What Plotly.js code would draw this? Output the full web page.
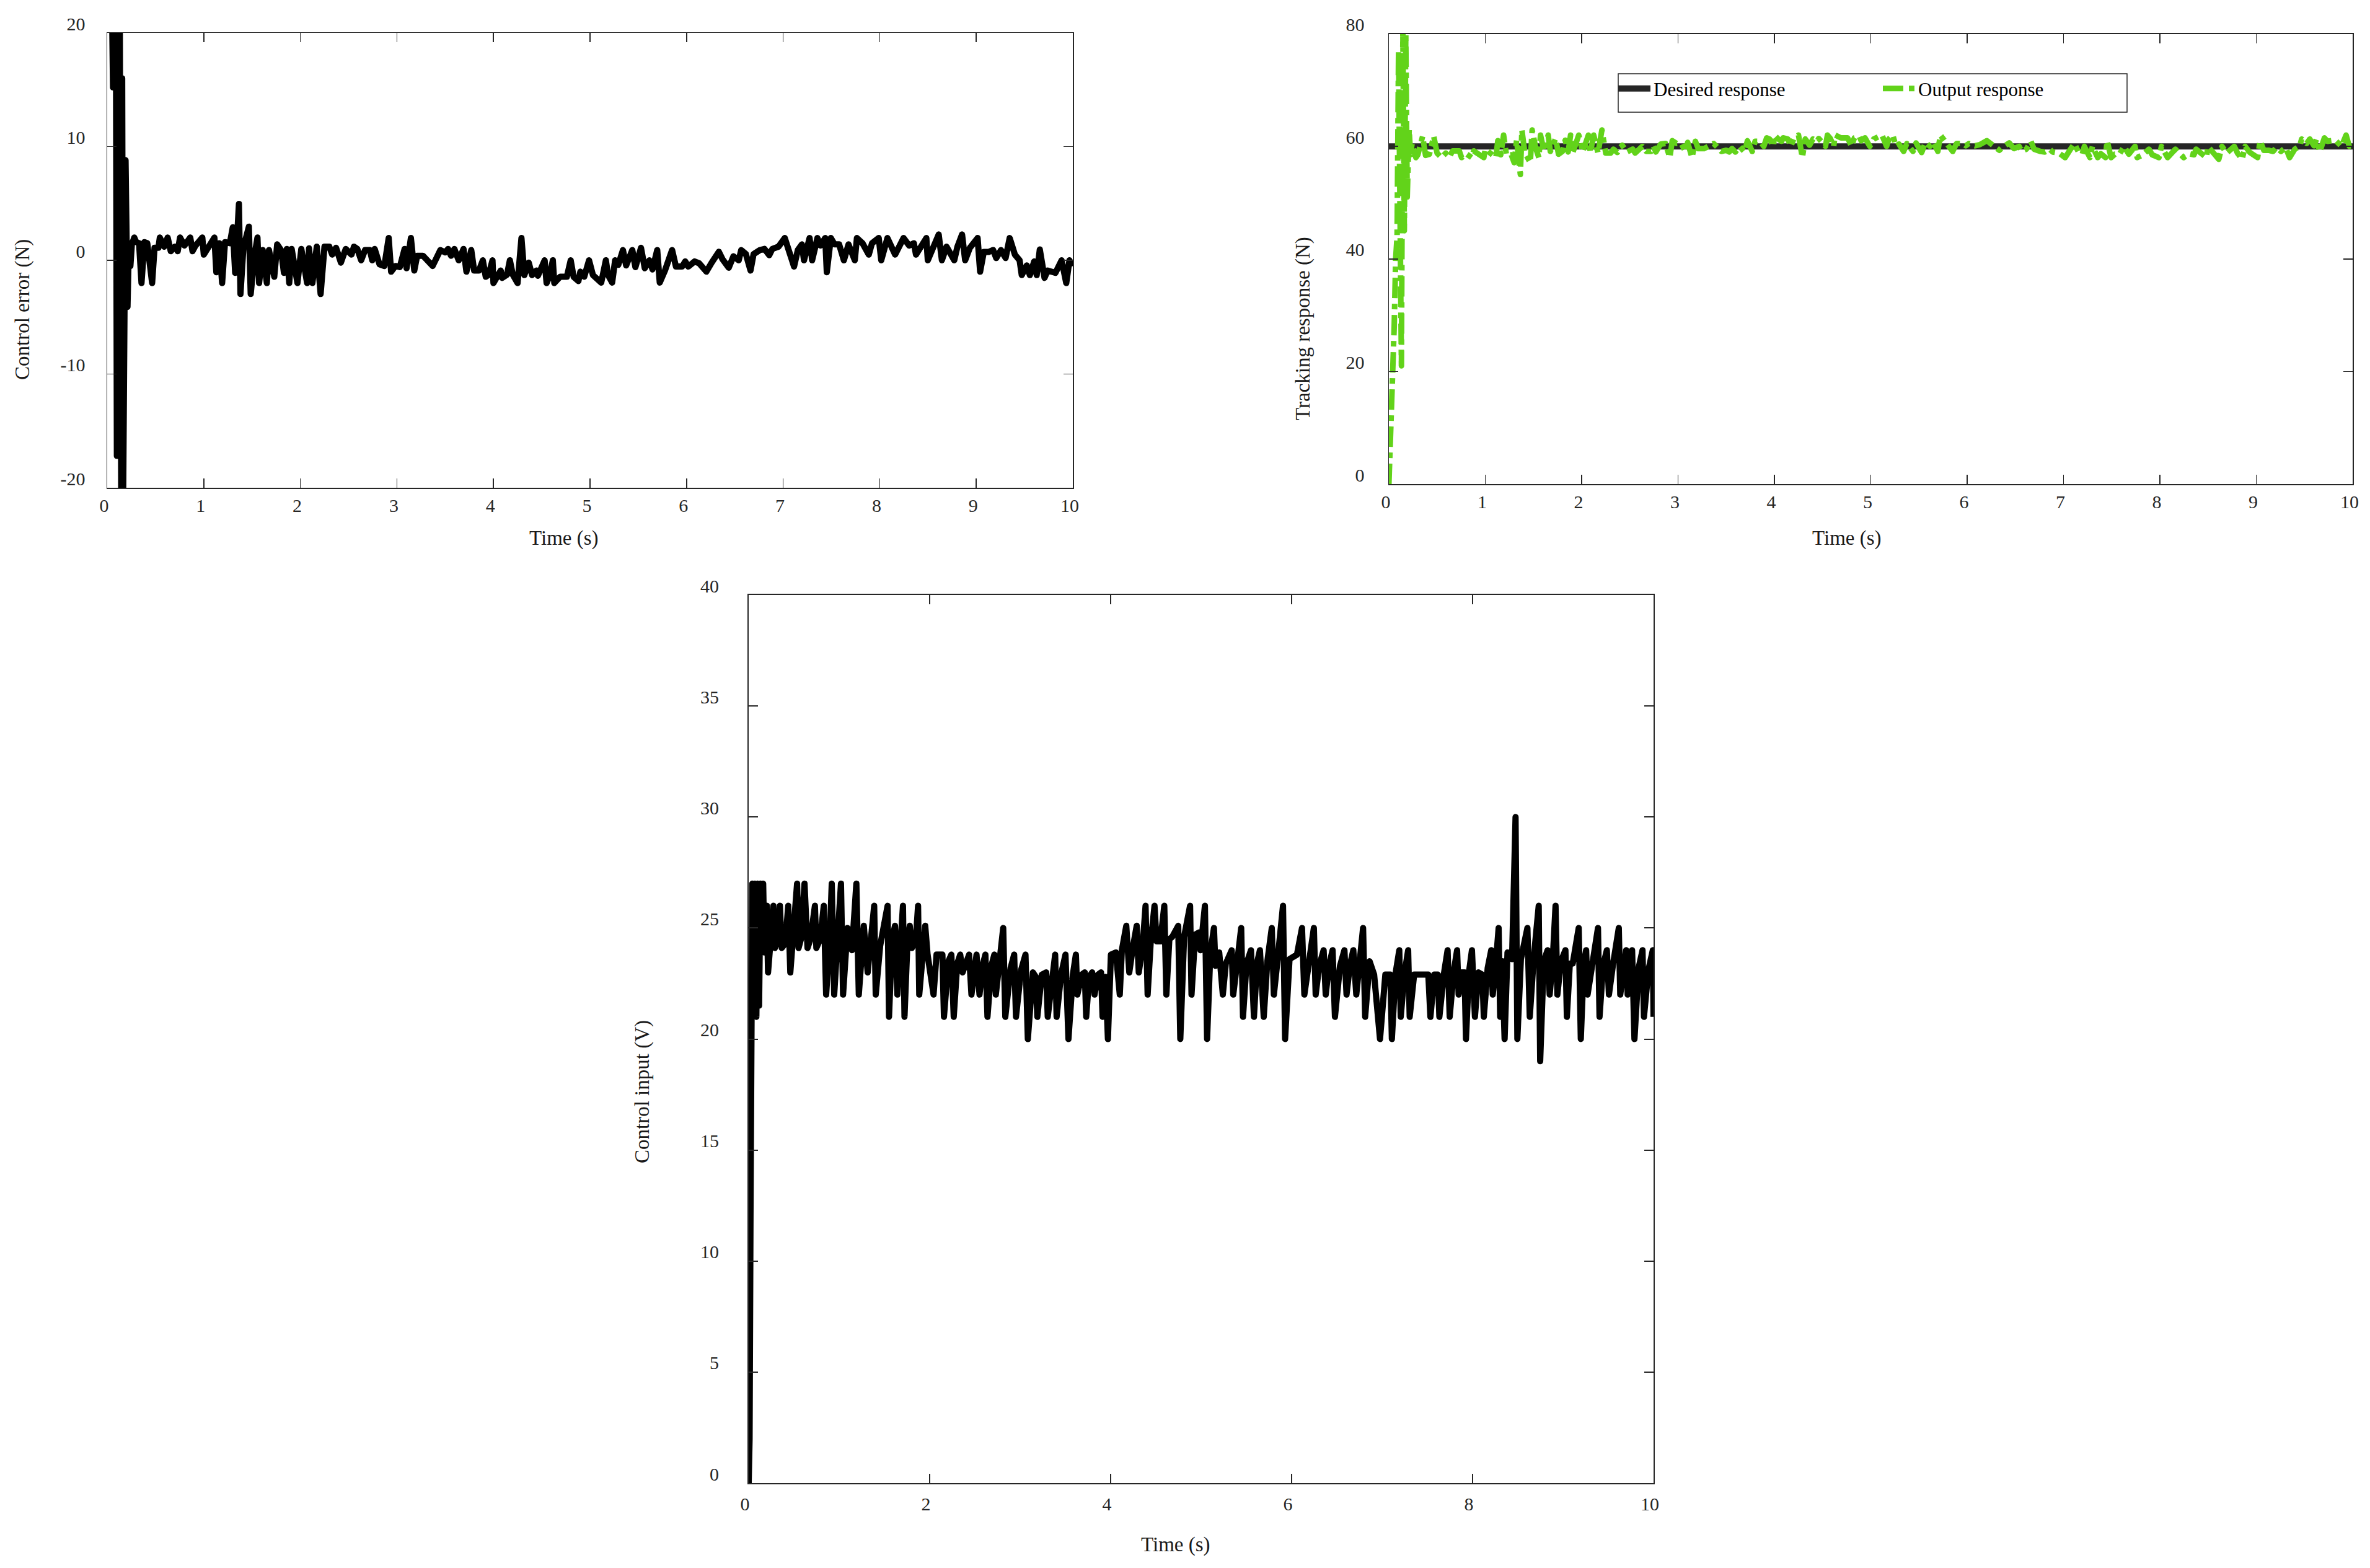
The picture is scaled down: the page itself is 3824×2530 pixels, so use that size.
<!DOCTYPE html>
<html>
<head>
<meta charset="utf-8">
<script src="https://cdn.plot.ly/plotly-3.0.1.min.js"></script>
<style>
html,body{margin:0;padding:0;background:#fff;}
#chart{width:3824px;height:2530px;}
.scatterlayer path.js-line{stroke-linejoin:round !important;}
</style>
</head>
<body>
<div id="chart"></div>
<script>
// ---------- Data ----------
// Control error (N) vs time (s)
const errT = [0,0.03,0.05,0.06,0.07,0.08,0.09,0.10,0.11,0.12,0.13,0.145,0.155,0.165,0.19,0.21,0.225,0.24,0.255,0.28,0.30,0.33,0.355,0.385,0.415,0.465,0.49,0.53,0.545,0.59,0.626,0.658,0.70,0.73,0.754,0.80,0.86,0.883,0.915,0.985,1.00,1.06,1.11,1.13,1.16,1.19,1.22,1.27,1.30,1.325,1.364,1.38,1.41,1.467,1.486,1.525,1.556,1.573,1.61,1.653,1.675,1.73,1.76,1.80,1.83,1.86,1.885,1.91,1.97,2.01,2.07,2.09,2.125,2.17,2.21,2.25,2.30,2.33,2.37,2.42,2.47,2.53,2.555,2.59,2.63,2.67,2.72,2.745,2.77,2.82,2.87,2.915,2.94,2.985,3.03,3.08,3.10,3.145,3.18,3.21,3.27,3.37,3.45,3.50,3.53,3.56,3.595,3.64,3.69,3.72,3.77,3.80,3.85,3.89,3.92,3.95,3.99,4.00,4.04,4.075,4.09,4.14,4.17,4.20,4.25,4.29,4.32,4.365,4.40,4.445,4.46,4.53,4.55,4.58,4.615,4.63,4.69,4.76,4.80,4.83,4.88,4.90,4.94,4.99,5.03,5.116,5.164,5.187,5.229,5.26,5.293,5.341,5.374,5.438,5.47,5.528,5.567,5.615,5.647,5.696,5.722,5.776,5.85,5.89,5.954,5.986,6.018,6.083,6.131,6.205,6.26,6.334,6.372,6.437,6.485,6.54,6.566,6.614,6.662,6.694,6.759,6.807,6.856,6.888,6.952,7.017,7.065,7.113,7.152,7.194,7.216,7.274,7.30,7.355,7.387,7.436,7.452,7.494,7.532,7.58,7.629,7.677,7.742,7.764,7.822,7.887,7.92,7.99,8.016,8.08,8.16,8.209,8.247,8.305,8.354,8.376,8.434,8.483,8.498,8.563,8.611,8.644,8.692,8.772,8.805,8.853,8.885,8.934,9.014,9.04,9.078,9.127,9.175,9.207,9.256,9.304,9.346,9.40,9.449,9.471,9.523,9.555,9.60,9.626,9.658,9.707,9.739,9.82,9.884,9.932,9.965,10.0];
const errV = [60,45,22,15.2,21,15.2,22,-17.2,21,15.2,22,-21,16,-21,8.8,-4.1,1.5,-0.5,1.4,2.0,1.6,1.5,-2.0,1.6,1.5,-2.0,1.1,1.1,2.0,1.2,2.0,0.8,1.2,0.8,2.0,1.3,2.0,0.8,1.3,2.0,0.5,1.4,2.0,-1.05,1.5,-2.0,1.6,1.5,2.9,-1.1,4.96,-2.96,1.1,2.96,-2.96,0.4,2.0,-2.0,0.9,-2.0,0.9,-1.45,1.4,0.9,-1.1,1.0,-2.0,1.0,-2.0,1.0,-2.0,1.05,-2.0,1.2,-2.96,1.2,1.2,0.5,1.1,-0.2,1.0,0.5,1.2,1.0,0.0,0.9,0.9,0.0,1.0,-0.36,-0.5,1.96,-1.0,-0.5,-0.6,1.0,-0.7,1.96,-0.9,0.4,0.4,-0.5,0.9,0.7,1.0,0.4,1.0,0.0,1.0,-1.0,0.9,-0.9,-0.9,0.0,-1.45,-1.27,0.0,-2.0,-1.27,-0.9,-1.55,-1.27,0.0,-1.27,-2.0,1.96,-1.3,-0.2,-1.3,-0.9,-1.36,0.0,-2.0,-1.4,0.0,-2.0,-1.45,-1.45,0.0,-1.45,-1.82,-1.0,-1.45,0.0,-1.3,-1.96,0.0,-1.3,-1.96,0.0,-0.4,0.9,-0.45,0.9,-0.6,1.1,-0.7,0.0,-0.8,0.9,-1.96,-0.9,0.9,-0.55,-0.55,-0.1,-0.55,-0.1,-0.27,-1.0,-0.2,0.75,0.1,-0.65,0.35,0.0,0.9,0.55,-0.9,0.55,0.9,1.0,0.45,1.0,1.2,1.96,0.7,-0.55,0.9,1.4,0.0,1.96,0.0,1.96,1.3,1.96,-1.05,1.96,1.4,1.4,0.0,1.4,0.0,1.96,1.5,0.5,1.5,1.96,0.0,1.96,0.5,1.5,1.96,1.3,1.5,0.5,1.3,1.96,0.0,1.3,2.27,0.0,1.2,0.0,1.2,2.27,0.0,1.1,1.96,-1.0,0.73,0.73,0.9,0.2,0.9,0.2,1.96,0.5,0.0,-1.3,-0.45,-1.3,-0.1,-1.3,0.95,-1.55,-0.9,-1.1,0.0,-2.0,0.0,-0.5];

// Tracking response (N): desired and output
const desiredT = [0, 10];
const desiredV = [60, 60];
const outT = [0,0.02,0.04,0.055,0.07,0.085,0.10,0.115,0.13,0.145,0.16,0.175,0.19,0.21,0.225,0.24,0.26,0.28,0.30,0.35,0.38,0.42,0.465,0.50,0.545,0.59,0.626,0.66,0.73,0.754,0.80,0.86,0.88,0.915,0.985,1.00,1.06,1.11,1.13,1.16,1.19,1.22,1.27,1.30,1.325,1.364,1.38,1.41,1.467,1.486,1.525,1.556,1.573,1.61,1.653,1.675,1.73,1.76,1.80,1.83,1.86,1.885,1.91,1.97,2.01,2.07,2.09,2.125,2.17,2.21,2.25,2.30,2.33,2.37,2.42,2.47,2.53,2.555,2.63,2.67,2.72,2.745,2.77,2.82,2.87,2.915,2.94,2.985,3.03,3.08,3.10,3.145,3.18,3.21,3.27,3.37,3.45,3.50,3.53,3.56,3.595,3.64,3.69,3.72,3.77,3.80,3.85,3.89,3.92,3.95,3.99,4.00,4.04,4.075,4.09,4.14,4.17,4.20,4.25,4.29,4.32,4.365,4.40,4.445,4.46,4.53,4.55,4.58,4.615,4.63,4.69,4.76,4.80,4.83,4.88,4.90,4.94,4.99,5.03,5.116,5.164,5.187,5.229,5.26,5.293,5.341,5.374,5.438,5.47,5.528,5.567,5.615,5.647,5.696,5.722,5.776,5.85,5.89,5.954,5.986,6.018,6.083,6.131,6.205,6.26,6.334,6.372,6.437,6.485,6.54,6.566,6.614,6.662,6.694,6.759,6.807,6.856,6.888,6.952,7.017,7.065,7.113,7.152,7.194,7.216,7.274,7.30,7.355,7.387,7.436,7.452,7.494,7.532,7.58,7.629,7.677,7.742,7.764,7.822,7.887,7.92,7.99,8.016,8.08,8.16,8.209,8.247,8.305,8.354,8.376,8.434,8.483,8.498,8.563,8.611,8.644,8.692,8.772,8.805,8.853,8.885,8.934,9.014,9.04,9.078,9.127,9.175,9.207,9.256,9.304,9.346,9.40,9.449,9.471,9.523,9.555,9.60,9.626,9.658,9.707,9.739,9.82,9.884,9.932,9.965,10.0];
const outV = [0,9,22,28,40,44,77,40,21,80,45,80,51,63,58.5,60.5,58.6,58.0,58.5,61.8,58.4,58.6,61.8,58.8,58.0,58.8,58.0,59.2,59.2,58.0,58.7,58.0,59.2,58.7,58.0,59.5,58.6,58.0,61.0,58.5,62.0,58.4,58.5,57.1,61.1,55.0,62.9,58.9,57.1,62.9,59.6,58.0,62.0,59.1,62.0,59.1,61.4,58.6,59.1,61.1,59.0,62.0,59.0,62.0,59.0,62.0,58.9,62.0,58.8,62.9,58.8,58.8,59.5,58.9,60.2,59.0,59.5,58.8,60.0,59.1,59.1,60.0,59.0,60.4,60.5,58.0,61.0,60.5,60.6,59.0,60.7,58.0,60.9,59.6,59.6,60.5,59.1,59.3,59.0,59.6,59.0,60.0,59.0,61.0,59.1,60.9,60.9,60.0,61.5,61.3,60.0,62.0,61.3,60.9,61.5,61.3,60.0,61.3,62.0,58.0,61.3,60.2,61.3,60.9,61.4,60.0,62.0,61.4,60.0,62.0,61.5,61.5,60.0,61.5,61.8,61.0,61.5,60.0,61.3,62.0,60.0,61.3,62.0,60.0,60.4,59.1,60.5,59.1,60.6,58.9,60.7,60.0,60.8,59.1,62.0,60.9,59.1,60.5,60.5,60.1,60.5,60.1,60.3,61.0,60.2,59.3,59.9,60.6,59.6,60.0,59.1,59.5,60.9,59.5,59.1,59.0,59.5,59.0,58.8,58.0,59.3,60.5,59.1,58.6,60.0,58.0,60.0,58.0,58.7,58.0,61.0,58.0,58.6,58.6,60.0,58.6,60.0,58.0,58.5,59.5,58.5,58.0,60.0,58.0,59.5,58.5,58.0,58.7,58.5,59.5,58.7,58.0,60.0,58.7,57.7,60.0,58.8,60.0,58.8,57.7,60.0,58.9,58.0,61.0,59.3,59.3,59.1,59.8,59.1,59.8,58.0,59.5,60.0,61.3,60.5,61.3,60.1,61.3,59.0,61.5,60.9,61.1,60.0,62.0,60.0,60.5];

// Control input (V) vs time (s)
const inT = [0,0.01,0.02,0.03,0.04,0.055,0.07,0.085,0.10,0.115,0.13,0.145,0.16,0.174,0.20,0.214,0.247,0.273,0.289,0.322,0.345,0.365,0.404,0.437,0.46,0.496,0.535,0.551,0.578,0.617,0.65,0.683,0.732,0.748,0.79,0.83,0.856,0.895,0.918,0.945,0.977,1.02,1.043,1.092,1.141,1.19,1.217,1.272,1.315,1.354,1.387,1.404,1.453,1.535,1.551,1.584,1.617,1.643,1.682,1.705,1.722,1.754,1.78,1.803,1.846,1.872,1.885,1.928,1.951,1.977,2.043,2.076,2.141,2.158,2.207,2.24,2.266,2.305,2.338,2.364,2.403,2.436,2.462,2.495,2.518,2.551,2.584,2.616,2.639,2.682,2.715,2.731,2.77,2.813,2.836,2.895,2.934,2.954,3.01,3.059,3.085,3.141,3.173,3.19,3.239,3.288,3.305,3.354,3.387,3.403,3.452,3.501,3.534,3.583,3.616,3.632,3.681,3.714,3.73,3.763,3.796,3.822,3.861,3.894,3.911,3.944,3.97,4.003,4.058,4.101,4.124,4.173,4.206,4.245,4.288,4.311,4.354,4.386,4.409,4.442,4.485,4.508,4.55,4.593,4.616,4.649,4.681,4.747,4.77,4.812,4.878,4.894,4.934,4.976,4.993,5.042,5.066,5.102,5.142,5.158,5.2,5.24,5.273,5.338,5.355,5.397,5.443,5.463,5.502,5.551,5.584,5.617,5.65,5.692,5.732,5.781,5.804,5.846,5.905,5.928,5.977,6.059,6.115,6.141,6.19,6.246,6.266,6.305,6.354,6.377,6.413,6.453,6.479,6.535,6.584,6.607,6.643,6.682,6.715,6.754,6.79,6.813,6.862,6.912,6.977,7.036,7.092,7.108,7.147,7.19,7.206,7.246,7.288,7.305,7.354,7.469,7.511,7.534,7.577,7.616,7.633,7.682,7.724,7.747,7.79,7.829,7.846,7.878,7.911,7.927,7.96,7.993,8.026,8.065,8.108,8.124,8.167,8.206,8.223,8.255,8.288,8.305,8.327,8.354,8.386,8.436,8.475,8.495,8.534,8.606,8.632,8.675,8.731,8.747,8.786,8.829,8.852,8.885,8.917,8.937,8.976,9.026,9.042,9.075,9.107,9.173,9.196,9.229,9.255,9.271,9.32,9.386,9.403,9.442,9.484,9.507,9.55,9.616,9.632,9.665,9.697,9.714,9.737,9.763,9.789,9.835,9.878,9.894,9.943,9.992,10.0];
const inV = [0,2,12,21,27,21,27,21,27,21.5,27,24,27,23.9,26,23,24.3,26,24.1,24.5,26,24.1,24.3,26,23,24.8,27,24.1,24.5,27,24.1,24.5,26,24.1,24.5,26,22,24.4,27,22,24.5,27,22,25,24,27,22,25.1,23,24.4,26,22,24.2,26,21,24.5,25.1,22,24.3,26,21,24.3,25.1,24.1,24.4,26,22,24.5,25.1,23.8,22,23.8,23.8,21,23.5,23.8,21,23.4,23.8,23,23.5,23.8,22,23.5,23.8,22,23.3,23.8,21,23.3,23.8,22,23.2,25.0,21,23.2,23.8,21,23.1,23.8,20,23.0,22.8,21,22.9,23.0,21,22.9,23.8,21,22.9,23.8,20,22.9,23.8,22,22.9,23.0,21,22.8,23.0,22,22.9,23.0,21,22.8,20,23.8,23.9,22,24.0,25.1,23,24.1,25.1,23,24.2,26,22,24.3,26,24.4,24.4,26,22,24.5,24.6,25.1,20,24.6,26,22,24.7,24.8,24,26,20,23.9,25,23.3,23.9,22,23.4,24,22,23.4,25,21,23.4,24,21,23.4,24,21,23.5,25,22,23.6,26,20,23.6,23.8,25,22,23.4,25,22,23.3,24,22,23.3,24,21,23.3,24,22,23.3,24,22,23.3,25,21,23.5,22.9,20,22.9,22.9,20,22.9,24,21,22.9,24,21,22.9,22.9,22.9,21,22.9,22.9,21,22.9,24,21,23,24,22,23,23,20,23,24,21,23,22.9,21,23.2,24,22,23.3,25,21,23.5,20,23.9,23.6,30,20,23.6,25,21,23.6,26,19,23.5,24,22,23.5,26,22,23.5,24,21,23.4,23.4,25,20,23.4,24,22,23.4,25,21,23.3,24,22,23.3,25,22,23.3,24,22,23.3,24,20,23.2,24,21,23.1,24,21];

// Tick labels
const errTickVals = [-20, -10, 0, 10, 20];
const errTickText = ['-20', '-10', '0', '10', '20'];
const trackTickVals = [0, 20, 40, 60, 80];
const trackTickText = ['0', '20', '40', '60', '80'];
const inTickVals = [0, 5, 10, 15, 20, 25, 30, 35, 40];
const inTickText = ['0', '5', '10', '15', '20', '25', '30', '35', '40'];
const timeTicks1 = [0,1,2,3,4,5,6,7,8,9,10];
const timeTicks3 = [0,2,4,6,8,10];

// Titles
const xTitle = 'Time (s)';
const yTitle1 = 'Control error (N)';
const yTitle2 = 'Tracking response (N)';
const yTitle3 = 'Control input (V)';
const legendNames = ['Desired response', 'Output response'];

// ---------- Layout helpers ----------
const W = 3824, H = 2530;
const px = v => v / W;
const py = v => 1 - v / H;
const FONT = 'Liberation Serif, Times New Roman, serif';
const AX = '#262626';

function axisBase(extra) {
  return Object.assign({
    showline: true, linecolor: AX, linewidth: 1.5, mirror: 'ticks',
    ticks: 'inside', ticklen: 15, tickwidth: 1.5, tickcolor: AX,
    showgrid: false, zeroline: false, fixedrange: true,
    tickfont: {family: FONT, size: 30, color: AX},
    tickmode: 'array'
  }, extra);
}

const traces = [
  {x: errT, y: errV, type: 'scatter', mode: 'lines', xaxis: 'x', yaxis: 'y',
   line: {color: '#000000', width: 10}, showlegend: false, hoverinfo: 'skip'},
  {x: desiredT, y: desiredV, type: 'scatter', mode: 'lines', xaxis: 'x2', yaxis: 'y2',
   name: legendNames[0], line: {color: '#262626', width: 10}, hoverinfo: 'skip'},
  {x: outT, y: outV, type: 'scatter', mode: 'lines', xaxis: 'x2', yaxis: 'y2',
   name: legendNames[1], line: {color: '#62d31a', width: 9, dash: '33px,9px,9px,9px'}, hoverinfo: 'skip'},
  {x: inT, y: inV, type: 'scatter', mode: 'lines', xaxis: 'x3', yaxis: 'y3',
   line: {color: '#000000', width: 10}, showlegend: false, hoverinfo: 'skip'}
];

const titleFont = {family: FONT, size: 33, color: '#1a1a1a'};
function ann(text, cx, cy, angle) {
  return {text: text, xref: 'paper', yref: 'paper', x: px(cx), y: py(cy),
          xanchor: 'center', yanchor: 'middle', showarrow: false,
          textangle: angle || 0, font: titleFont};
}

const layout = {
  width: W, height: H,
  margin: {l: 0, r: 0, t: 0, b: 0, pad: 0},
  paper_bgcolor: '#ffffff', plot_bgcolor: '#ffffff',
  font: {family: FONT, size: 30, color: AX},
  showlegend: true,
  legend: {
    orientation: 'h', x: px(2606), y: py(116), xanchor: 'left', yanchor: 'top',
    font: {family: FONT, size: 31, color: '#000000'},
    bgcolor: 'rgba(0,0,0,0)', borderwidth: 0,
    itemwidth: 52, entrywidth: 360, entrywidthmode: 'pixels', traceorder: 'normal'
  },
  xaxis: axisBase({domain: [px(173), px(1731)], range: [0, 10], anchor: 'y',
    tickvals: timeTicks1, ticktext: timeTicks1.map(String), ticklabelshift: -5, ticklabelstandoff: 1}),
  yaxis: axisBase({domain: [py(787), py(53)], range: [-20, 20], anchor: 'x',
    tickvals: errTickVals, ticktext: errTickText, ticklabelshift: -15, ticklabelstandoff: 28}),
  xaxis2: axisBase({domain: [px(2241), px(3796)], range: [0, 10], anchor: 'y2',
    tickvals: timeTicks1, ticktext: timeTicks1.map(String), ticklabelshift: -5, ticklabelstandoff: 1}),
  yaxis2: axisBase({domain: [py(781), py(54.5)], range: [0, 80], anchor: 'x2',
    tickvals: trackTickVals, ticktext: trackTickText, ticklabelshift: -15, ticklabelstandoff: 32}),
  xaxis3: axisBase({domain: [px(1208), px(2668)], range: [0, 10], anchor: 'y3', linewidth: 2, tickwidth: 2,
    tickvals: timeTicks3, ticktext: timeTicks3.map(String), ticklabelshift: -6, ticklabelstandoff: 6}),
  yaxis3: axisBase({domain: [py(2393), py(960)], range: [0, 40], anchor: 'x3', linewidth: 2, tickwidth: 2,
    tickvals: inTickVals, ticktext: inTickText, ticklabelshift: -15, ticklabelstandoff: 40}),
  shapes: [
    {type: 'rect', xref: 'paper', yref: 'paper', x0: px(2611), x1: px(3432), y0: py(181), y1: py(119),
     line: {color: AX, width: 1.5}, fillcolor: 'rgba(0,0,0,0)', layer: 'above'}
  ],
  annotations: [
    ann(xTitle, 910, 868), ann(xTitle, 2980, 868), ann(xTitle, 1897, 2492),
    ann(yTitle1, 37, 500, -90), ann(yTitle2, 2102, 530, -90), ann(yTitle3, 1036, 1762, -90)
  ]
};

Plotly.newPlot('chart', traces, layout, {displayModeBar: false, staticPlot: true});
</script>
</body>
</html>
